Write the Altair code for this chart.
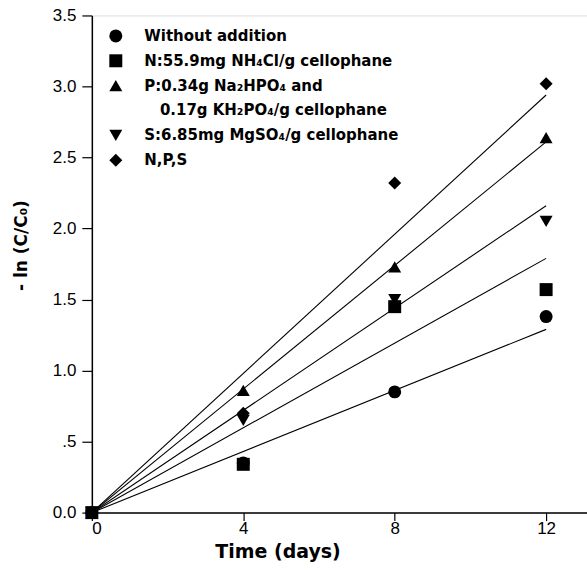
import altair as alt
import pandas as pd

# ---- data ----
days = [0, 4, 8, 12]
series_labels = [
    "Without addition",
    "N:55.9mg NH\u2084Cl/g cellophane",
    "P:0.34g Na\u2082HPO\u2084 and",
    "S:6.85mg MgSO\u2084/g cellophane",
    "N,P,S",
]
continuation_label = "\u200b\u00a0\u00a0\u00a00.17g KH\u2082PO\u2084/g cellophane"

without_addition = [0.0, 0.35, 0.85, 1.38]
nitrogen = [0.0, 0.34, 1.45, 1.57]
phosphorus = [0.0, 0.86, 1.73, 2.64]
sulfur = [0.0, 0.65, 1.50, 2.05]
n_p_s = [0.0, 0.70, 2.32, 3.02]

fit_days = [0, 12]
fit_start = [0.0, 0.0, 0.0, 0.0, 0.0]
fit_end = [1.29, 1.79, 2.61, 2.16, 2.94]

y_ticks = [0, 0.5, 1.0, 1.5, 2.0, 2.5, 3.0, 3.5]
x_ticks = [0, 4, 8, 12]

legend_domain = [series_labels[0], series_labels[1], series_labels[2],
                 continuation_label, series_labels[3], series_labels[4]]
shape_range = ["circle", "square", "triangle-up", "M0,0Z", "triangle-down", "diamond"]

# ---- tables ----
all_values = [without_addition, nitrogen, phosphorus, sulfur, n_p_s]
rows = []
for lab, vals in zip(series_labels, all_values):
    for d, v in zip(days, vals):
        rows.append({"series": lab, "day": d, "value": v})
points_df = pd.DataFrame(rows)

fit_rows = []
for lab, s, e in zip(series_labels, fit_start, fit_end):
    fit_rows.append({"series": lab, "day": fit_days[0], "value": s})
    fit_rows.append({"series": lab, "day": fit_days[1], "value": e})
fit_df = pd.DataFrame(fit_rows)

x_scale = alt.Scale(domain=[0, 13.08], nice=False, zero=False)
y_scale = alt.Scale(domain=[0, 3.5], nice=False)

x_axis = alt.Axis(
    values=x_ticks, title="Time (days)", grid=False,
    labelFont="Liberation Sans", labelFontSize=17, labelColor="black", labelPadding=0,
    tickSize=8, tickColor="black", tickWidth=1.2,
    domainColor="black", domainWidth=1.5,
    titleFont="DejaVu Sans", titleFontWeight="bold", titleFontSize=19, titleColor="black",
    titleX=186, titleY=39, titleBaseline="middle", titleAnchor="middle",
)
y_axis = alt.Axis(
    values=y_ticks, title="- ln (C/C\u2080)", grid=False,
    labelExpr="datum.value == 0.5 ? '.5' : format(datum.value, '.1f')",
    labelFont="Liberation Sans", labelFontSize=17, labelColor="black", labelPadding=6,
    tickSize=10, tickColor="black", tickWidth=1.2,
    domainColor="black", domainWidth=1.5,
    titleFont="DejaVu Sans", titleFontWeight="bold", titleFontSize=17, titleColor="black",
    titleX=-70, titleY=230, titleBaseline="middle", titleAngle=270, titleAlign="center",
)

lines = alt.Chart(fit_df).mark_line(color="black", strokeWidth=1.1).encode(
    x=alt.X("day:Q", scale=x_scale, axis=x_axis),
    y=alt.Y("value:Q", scale=y_scale, axis=y_axis),
    detail="series:N",
)

points = alt.Chart(points_df).mark_point(
    filled=True, size=169, color="black", opacity=1, strokeWidth=0
).encode(
    x=alt.X("day:Q", scale=x_scale),
    y=alt.Y("value:Q", scale=y_scale),
    shape=alt.Shape(
        "series:N",
        scale=alt.Scale(domain=legend_domain, range=shape_range),
        legend=alt.Legend(
            title=None, orient="none", legendX=16.5, legendY=13,
            labelFont="DejaVu Sans", labelFontWeight="bold", labelFontSize=15,
            labelColor="black", labelLimit=0, labelOffset=21,
            symbolSize=169, symbolFillColor="black", symbolStrokeWidth=0,
            symbolOpacity=1, rowPadding=8.9, padding=0,
        ),
    ),
)

chart = alt.layer(lines, points).properties(
    width=496, height=498,
    autosize=alt.AutoSizeParams(type="none"),
    padding={"left": 92, "top": 15, "right": 0, "bottom": 59},
).configure_view(stroke="black", strokeWidth=1.5).configure(background="white")

chart.save("out.html", embed_options={"renderer": "svg", "actions": False})
